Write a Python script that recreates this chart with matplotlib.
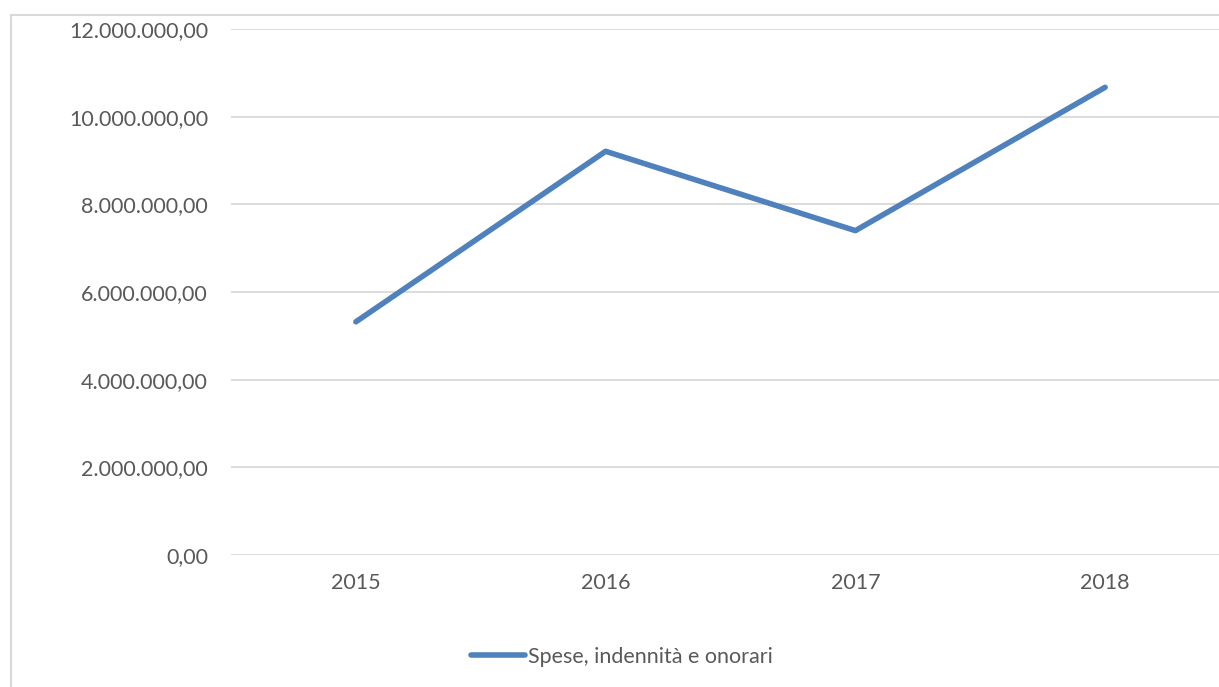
import numpy as np
import matplotlib.pyplot as plt
from matplotlib.patches import Rectangle

years = ["2015", "2016", "2017", "2018"]
spese = [5320000, 9210000, 7400000, 10670000]
yticks = [0, 2000000, 4000000, 6000000, 8000000, 10000000, 12000000]

plt.rcParams['font.family'] = ['Lato', 'DejaVu Sans']
W, H = 1219, 687
fig = plt.figure(figsize=(W / 100, H / 100), dpi=100)

# chart border (right/bottom edges fall outside the image)
fig.patches.append(Rectangle((11 / W, -0.1), 1.2, (H - 15) / H + 0.1,
                             transform=fig.transFigure, fill=False,
                             edgecolor="#d9d9d9", linewidth=1.5))

ax = fig.add_axes([231 / W, 132 / H, 999 / W, 526 / H])
x = np.arange(len(years))
ax.plot(x, spese, color="#4f81bd", linewidth=4, solid_capstyle="round",
        solid_joinstyle="round", label="Spese, indennità e onorari", zorder=3)

ax.set_xlim(-0.5, len(years) - 0.5)
ax.set_ylim(0, 12000000)
ax.set_yticks(yticks)
ax.set_yticklabels([f"{v:,.2f}".replace(",", "X").replace(".", ",").replace("X", ".") for v in yticks])
ax.set_xticks(x)
ax.set_xticklabels(years)
ax.grid(axis="y", color="#d9d9d9", linewidth=1.3)
ax.set_axisbelow(True)
for s in ax.spines.values():
    s.set_visible(False)
ax.tick_params(length=0, labelsize=15.5, labelcolor="#595959")
ax.tick_params(axis="y", pad=16.5)
ax.tick_params(axis="x", pad=13)

fig.legend(loc="center", bbox_to_anchor=(622 / W, 1 - 657 / H), frameon=False,
           fontsize=15.5, labelcolor="#595959", handlelength=2.5, handletextpad=0.15)

fig.savefig("out.png", dpi=100)
